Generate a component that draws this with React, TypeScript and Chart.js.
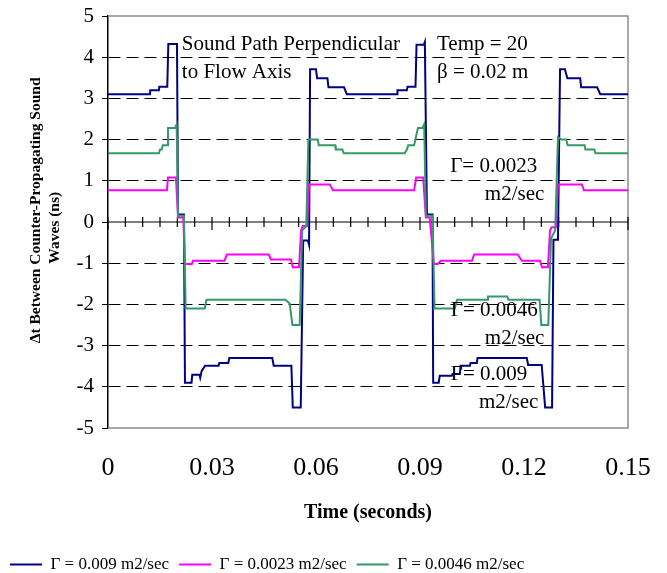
import React, { useEffect, useRef } from 'react';
import { Chart, registerables } from 'chart.js';

Chart.register(...registerables);

const FONT = "'Liberation Serif', 'Times New Roman', serif";

const seriesLabels = ['Γ = 0.009 m2/sec', 'Γ = 0.0023 m2/sec', 'Γ = 0.0046 m2/sec'];
const seriesColors = ['#000080', '#FF00FF', '#339966'];

// Γ = 0.009 m2/sec
const blueTime = [
  0, 0.0121, 0.0122, 0.0147, 0.0148, 0.0171, 0.0174, 0.0199, 0.0202, 0.0219,
  0.0222, 0.0241, 0.0243, 0.0264, 0.0266, 0.0270, 0.0280, 0.0319, 0.0321, 0.0347,
  0.0350, 0.0474, 0.0478, 0.0529, 0.0533, 0.0556, 0.0563, 0.0577, 0.0580, 0.0583,
  0.0600, 0.0603, 0.0633, 0.0636, 0.0681, 0.0689, 0.0834, 0.0835, 0.0862, 0.0864,
  0.0887, 0.0890, 0.0911, 0.0914, 0.0920, 0.0936, 0.0938, 0.0954, 0.0957, 0.0992,
  0.0994, 0.1015, 0.1017, 0.1044, 0.1046, 0.1064, 0.1066, 0.1208, 0.1212, 0.1251,
  0.1261, 0.1281, 0.1285, 0.1298, 0.1304, 0.1318, 0.1325, 0.1362, 0.1365, 0.1411,
  0.1420, 0.15,
];
const blueDt = [
  3.1, 3.1, 3.2, 3.2, 3.28, 3.28, 4.32, 4.32, 0.18, 0.18,
  -3.9, -3.9, -3.71, -3.71, -3.78, -3.62, -3.49, -3.49, -3.42, -3.42,
  -3.3, -3.3, -3.49, -3.49, -4.5, -4.5, -0.45, -0.45, -0.55, 3.71,
  3.71, 3.49, 3.49, 3.27, 3.27, 3.1, 3.1, 3.2, 3.2, 3.28,
  3.28, 4.3, 4.3, 4.37, 0.18, 0.18, -3.9, -3.9, -3.73, -3.73,
  -3.69, -3.69, -3.49, -3.49, -3.42, -3.42, -3.3, -3.3, -3.47, -3.47,
  -4.5, -4.5, -0.43, -0.43, 3.71, 3.71, 3.49, 3.49, 3.27, 3.27,
  3.1, 3.1,
];

// Γ = 0.0023 m2/sec
const magentaTime = [
  0, 0.0170, 0.0173, 0.0196, 0.0202, 0.0217, 0.0222, 0.0242, 0.0245, 0.0336,
  0.0343, 0.0464, 0.0470, 0.0528, 0.0533, 0.0551, 0.0557, 0.0562, 0.0574, 0.0580,
  0.0640, 0.0649, 0.0883, 0.0889, 0.0909, 0.0917, 0.0928, 0.0940, 0.0951, 0.0960,
  0.1050, 0.1056, 0.1182, 0.1194, 0.1246, 0.1252, 0.1269, 0.1275, 0.1280, 0.1292,
  0.1298, 0.1367, 0.1373, 0.15,
];
const magentaDt = [
  0.77, 0.77, 1.08, 1.08, 0.11, 0.11, -1.02, -1.02, -0.94, -0.94,
  -0.79, -0.79, -0.91, -0.91, -1.1, -1.1, -0.2, -0.1, -0.1, 0.91,
  0.91, 0.77, 0.77, 1.08, 1.08, 0.11, 0.11, -1.02, -1.02, -0.94,
  -0.94, -0.79, -0.79, -0.94, -0.94, -1.1, -1.1, -0.2, -0.13, -0.13,
  0.91, 0.91, 0.77, 0.77,
];

// Γ = 0.0046 m2/sec
const greenTime = [
  0, 0.0147, 0.0150, 0.0155, 0.0158, 0.0171, 0.0173, 0.0193, 0.0198, 0.0202,
  0.0219, 0.0224, 0.0279, 0.0284, 0.0512, 0.0524, 0.0532, 0.0553, 0.0560, 0.0572,
  0.0578, 0.0605, 0.0608, 0.0655, 0.0657, 0.0676, 0.0680, 0.0856, 0.0862, 0.0866,
  0.0883, 0.0894, 0.0907, 0.0912, 0.0917, 0.0936, 0.0942, 0.1000, 0.1007, 0.1094,
  0.1096, 0.1152, 0.1155, 0.1245, 0.1250, 0.1270, 0.1278, 0.1290, 0.1298, 0.1308,
  0.1322, 0.1326, 0.1375, 0.1377, 0.1403, 0.1406, 0.15,
];
const greenDt = [
  1.67, 1.67, 1.76, 1.76, 1.86, 1.86, 2.28, 2.28, 2.37, 0.15,
  0.15, -2.1, -2.1, -1.89, -1.89, -1.98, -2.5, -2.5, -0.2, -0.1,
  2.0, 2.0, 1.86, 1.86, 1.76, 1.76, 1.67, 1.67, 1.76, 1.86,
  1.86, 2.28, 2.28, 2.37, 0.15, 0.15, -2.1, -2.1, -1.89, -1.89,
  -1.81, -1.81, -1.89, -1.89, -2.5, -2.5, -0.4, -0.2, 2.06, 2.0,
  2.0, 1.86, 1.86, 1.76, 1.76, 1.67, 1.67,
];

const xTickValues = [0, 0.03, 0.06, 0.09, 0.12, 0.15];
const xTickLabels = ['0', '0.03', '0.06', '0.09', '0.12', '0.15'];
const yTickValues = [-5, -4, -3, -2, -1, 0, 1, 2, 3, 4, 5];
const yTickLabels = ['-5', '-4', '-3', '-2', '-1', '0', '1', '2', '3', '4', '5'];

const noteTexts = [
  'Sound Path Perpendicular', 'to Flow Axis', 'Temp = 20', 'β = 0.02 m',
  'Γ= 0.0023', 'm2/sec', 'Γ= 0.0046', 'm2/sec', 'Γ= 0.009', 'm2/sec',
];
const noteTime = [0.0213, 0.0213, 0.0949, 0.0949, 0.0987, 0.1087, 0.0989, 0.1087, 0.0989, 0.1070];
const noteDt = [4.32, 3.64, 4.32, 3.64, 1.35, 0.67, -2.15, -2.83, -3.69, -4.39];

const toPoints = (t: number[], v: number[]) => t.map((x, i) => ({ x, y: v[i] }));

const decorPlugin = {
  id: 'decor',
  beforeDatasetsDraw(chart: any) {
    const { ctx, chartArea: a, scales } = chart;
    const xs = scales.x;
    const ys = scales.y;
    ctx.save();
    ctx.strokeStyle = '#8c8c8c';
    ctx.lineWidth = 1.5;
    ctx.beginPath();
    ctx.moveTo(a.left, a.top);
    ctx.lineTo(a.right, a.top);
    ctx.lineTo(a.right, a.bottom);
    ctx.lineTo(a.left, a.bottom);
    ctx.stroke();
    const y0 = ys.getPixelForValue(0);
    ctx.strokeStyle = '#000';
    ctx.lineWidth = 1.2;
    ctx.beginPath();
    ctx.moveTo(a.left, y0);
    ctx.lineTo(a.right, y0);
    for (let i = 0; i <= 30; i++) {
      const px = xs.getPixelForValue(i * 0.005);
      ctx.moveTo(px, y0 - 5);
      ctx.lineTo(px, y0 + (i % 6 === 0 ? 8 : 5));
    }
    ctx.stroke();
    ctx.restore();
  },
  afterDatasetsDraw(chart: any) {
    const { ctx, scales } = chart;
    ctx.save();
    ctx.font = `21px ${FONT}`;
    ctx.fillStyle = '#000';
    ctx.textAlign = 'left';
    ctx.textBaseline = 'middle';
    noteTexts.forEach((txt, i) => {
      ctx.fillText(txt, scales.x.getPixelForValue(noteTime[i]), scales.y.getPixelForValue(noteDt[i]));
    });
    ctx.restore();
  },
};

export default function App() {
  const ref = useRef<HTMLCanvasElement>(null);
  useEffect(() => {
    if (!ref.current) return;
    const chart = new Chart(ref.current, {
      type: 'line',
      data: {
        datasets: [
          { label: seriesLabels[0], data: toPoints(blueTime, blueDt), borderColor: seriesColors[0], backgroundColor: seriesColors[0], borderWidth: 2, pointRadius: 0, tension: 0, fill: false, order: 2 },
          { label: seriesLabels[1], data: toPoints(magentaTime, magentaDt), borderColor: seriesColors[1], backgroundColor: seriesColors[1], borderWidth: 2, pointRadius: 0, tension: 0, fill: false, order: 1 },
          { label: seriesLabels[2], data: toPoints(greenTime, greenDt), borderColor: seriesColors[2], backgroundColor: seriesColors[2], borderWidth: 2, pointRadius: 0, tension: 0, fill: false, order: 0 },
        ],
      },
      options: {
        responsive: true,
        maintainAspectRatio: false,
        animation: false,
        events: [],
        layout: { padding: { top: 16, right: 39, left: 0, bottom: -10 } },
        scales: {
          x: {
            type: 'linear',
            min: 0,
            max: 0.15,
            afterBuildTicks: (s: any) => { s.ticks = xTickValues.map((v) => ({ value: v })); },
            afterFit: (s: any) => { s.height = 118; },
            ticks: {
              autoSkip: false,
              maxRotation: 0,
              padding: 3,
              color: '#000',
              font: { family: FONT, size: 26 },
              callback: (v: any) => xTickLabels[xTickValues.indexOf(Number(v))],
            },
            grid: {
              display: true,
              drawOnChartArea: false,
              drawTicks: true,
              tickLength: 22,
              color: 'rgba(0,0,0,0)',
              tickColor: 'rgba(0,0,0,0)',
            },
            border: { display: false },
            title: {
              display: true,
              text: 'Time (seconds)',
              color: '#000',
              font: { family: FONT, size: 20, weight: 'bold' },
              padding: { top: 0, bottom: 21 },
            },
          },
          y: {
            type: 'linear',
            min: -5,
            max: 5,
            afterBuildTicks: (s: any) => { s.ticks = yTickValues.map((v) => ({ value: v })); },
            afterFit: (s: any) => { s.width = 108; },
            ticks: {
              padding: 8,
              color: '#000',
              font: { family: FONT, size: 21, lineHeight: 0.7 },
              callback: (v: any) => yTickLabels[yTickValues.indexOf(Number(v))],
            },
            grid: {
              color: (c: any) => (c.tick && (c.tick.value === 0 || Math.abs(c.tick.value) === 5) ? 'rgba(0,0,0,0)' : '#000'),
              tickColor: '#000',
              tickLength: 6,
              lineWidth: 1,
              tickBorderDash: [],
            } as any,
            border: { color: '#000', width: 1.5, dash: [12, 6] },
            title: {
              display: true,
              text: ['      Δt Between Counter-Propagating Sound', 'Waves (ns)   '],
              color: '#000',
              font: { family: FONT, size: 15.5, weight: 'bold', lineHeight: 1.2 },
              padding: { top: 27, bottom: 0 },
            },
          },
        },
        plugins: {
          legend: {
            position: 'bottom',
            align: 'start',
            labels: {
              boxWidth: 32,
              boxHeight: 2,
              padding: 10,
              color: '#000',
              font: { family: FONT, size: 17 },
              sort: (a: any, b: any) => a.datasetIndex - b.datasetIndex,
              generateLabels: (chart: any) =>
                Chart.defaults.plugins.legend.labels.generateLabels(chart).map((it: any) => ({
                  ...it,
                  fillStyle: seriesColors[it.datasetIndex],
                  lineWidth: 0,
                })),
            },
          },
          tooltip: { enabled: false },
        },
      } as any,
      plugins: [decorPlugin],
    });
    return () => chart.destroy();
  }, []);

  return (
    <div style={{ position: 'fixed', left: 0, top: 0, width: 667, height: 573, background: '#fff' }}>
      <canvas ref={ref} />
    </div>
  );
}
